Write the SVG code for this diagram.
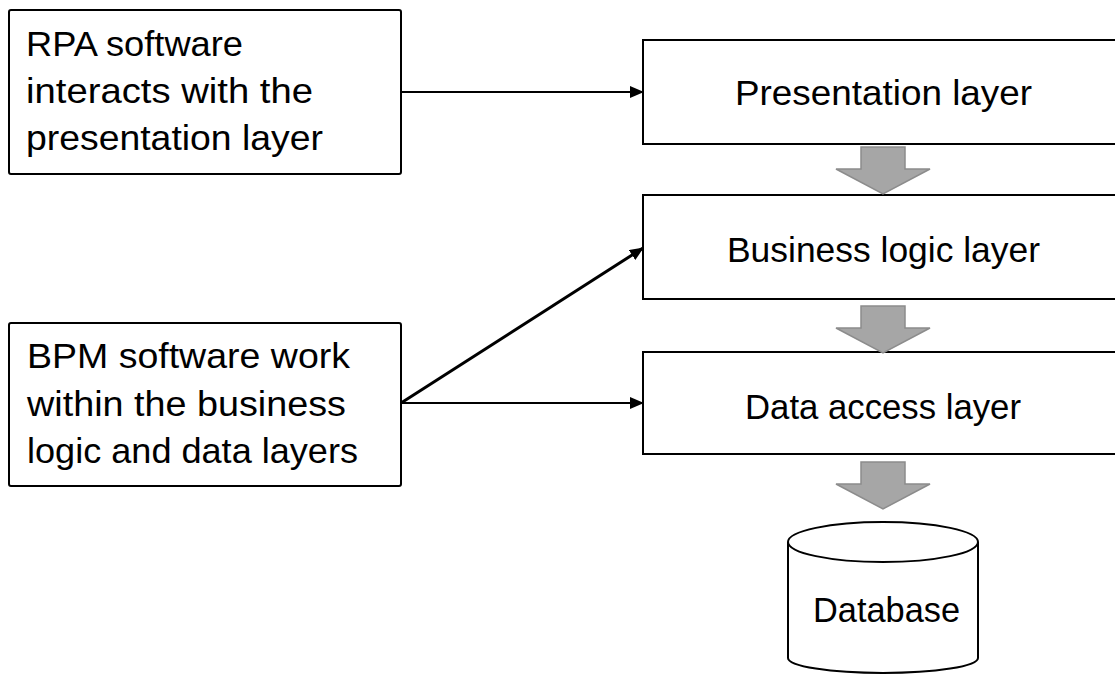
<svg xmlns="http://www.w3.org/2000/svg" width="1115" height="675" viewBox="0 0 1115 675">
  <style>
    .box { fill: #ffffff; stroke: #000000; stroke-width: 2; }
    .lbl { font-family: "Liberation Sans", Arial, sans-serif; font-size: 35px; fill: #000000; }
    .flow { fill: #a6a6a6; stroke: #8c8c8c; stroke-width: 1.5; }
    .conn { fill: none; stroke: #000000; stroke-width: 2; }
    .conn.bold { stroke-width: 3; }
  </style>
  <defs>
    <marker id="head" markerUnits="userSpaceOnUse" markerWidth="14" markerHeight="12" refX="13" refY="6" orient="auto">
      <path d="M0,0 L14,6 L0,12 Z" fill="#000000"/>
    </marker>
    <path id="downArrow" class="flow" d="M-22,0 L22,0 L22,22 L47,22 L0,47 L-47,22 L-22,22 Z"/>
  </defs>
  <rect width="1115" height="675" fill="#ffffff"/>

  <!-- left-hand notes -->
  <g id="rpa-note">
    <rect class="box" x="9" y="10" width="392" height="164" rx="2"/>
    <text class="lbl" x="26" y="56" textLength="217" lengthAdjust="spacingAndGlyphs">RPA software</text>
    <text class="lbl" x="26" y="103" textLength="287" lengthAdjust="spacingAndGlyphs">interacts with the</text>
    <text class="lbl" x="26" y="150" textLength="297" lengthAdjust="spacingAndGlyphs">presentation layer</text>
  </g>
  <g id="bpm-note">
    <rect class="box" x="9" y="323" width="392" height="163" rx="2"/>
    <text class="lbl" x="27" y="368" textLength="323" lengthAdjust="spacingAndGlyphs">BPM software work</text>
    <text class="lbl" x="27" y="416" textLength="319" lengthAdjust="spacingAndGlyphs">within the business</text>
    <text class="lbl" x="27" y="463" textLength="331" lengthAdjust="spacingAndGlyphs">logic and data layers</text>
  </g>

  <!-- application layers -->
  <g id="presentation-layer">
    <rect class="box" x="643" y="40" width="490" height="104"/>
    <text class="lbl" x="735" y="105" textLength="297" lengthAdjust="spacingAndGlyphs">Presentation layer</text>
  </g>
  <g id="business-logic-layer">
    <rect class="box" x="643" y="195" width="490" height="104"/>
    <text class="lbl" x="727" y="262" textLength="313" lengthAdjust="spacingAndGlyphs">Business logic layer</text>
  </g>
  <g id="data-access-layer">
    <rect class="box" x="643" y="352" width="490" height="102"/>
    <text class="lbl" x="745" y="419" textLength="276" lengthAdjust="spacingAndGlyphs">Data access layer</text>
  </g>
  <g id="database">
    <path class="box" d="M788,542 L788,658 A95,15 0 0 0 978,658 L978,542"/>
    <ellipse class="box" cx="883" cy="542" rx="95" ry="20"/>
    <text class="lbl" x="813" y="622" textLength="147" lengthAdjust="spacingAndGlyphs">Database</text>
  </g>

  <!-- connectors -->
  <g id="connectors">
    <line class="conn" x1="401" y1="92" x2="643" y2="92" marker-end="url(#head)"/>
    <line class="conn" x1="401" y1="403" x2="643" y2="403" marker-end="url(#head)"/>
    <line class="conn bold" x1="401" y1="403" x2="643" y2="248" marker-end="url(#head)"/>
    <use href="#downArrow" x="883" y="147"/>
    <use href="#downArrow" x="883" y="306"/>
    <use href="#downArrow" x="883" y="462"/>
  </g>
</svg>
